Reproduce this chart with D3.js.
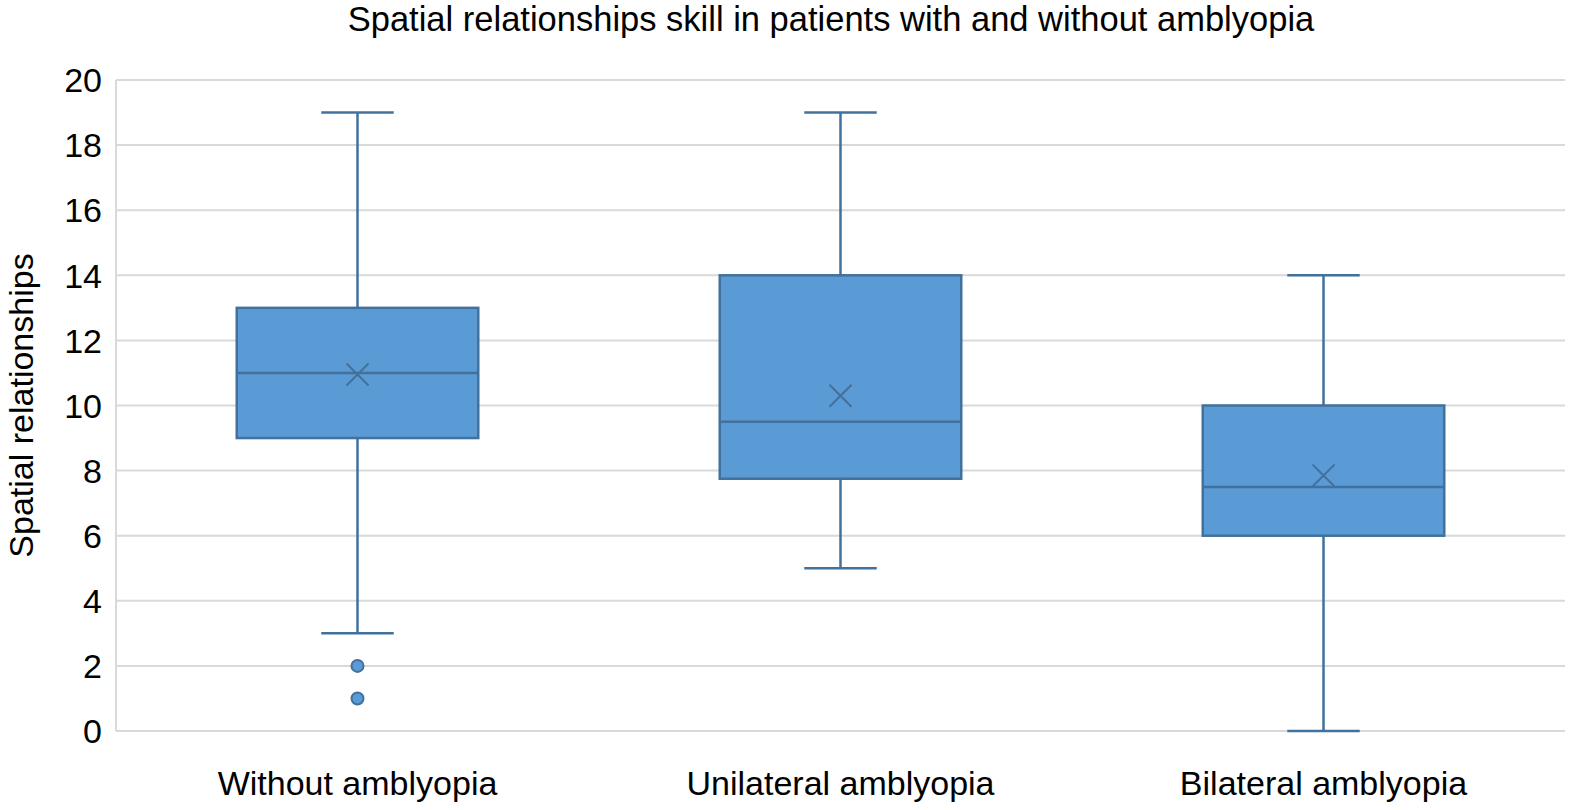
<!DOCTYPE html>
<html lang="en">
<head>
<meta charset="UTF-8">
<title>Spatial relationships box plot</title>
<script src="https://cdn.jsdelivr.net/npm/d3@7"></script>
<style>
  body { margin: 0; background: #fff; }
  text { font-family: "Liberation Sans", Arial, sans-serif; fill: #000; }
</style>
</head>
<body>
<div id="chart"></div>
<script>
// data
var groups   = ["Without amblyopia", "Unilateral amblyopia", "Bilateral amblyopia"];
var mins     = [3, 5, 0];
var q1s      = [9, 7.75, 6];
var medians  = [11, 9.5, 7.5];
var q3s      = [13, 14, 10];
var maxs     = [19, 19, 14];
var means    = [10.95, 10.3, 7.85];
var outliers = [[2, 1], [], []];
var yTicks   = [0, 2, 4, 6, 8, 10, 12, 14, 16, 18, 20];

const w = 1580, h = 810;
const margin = {top: 80, right: 15, bottom: 79, left: 116};

var svg = d3.select("#chart").append("svg")
    .attr("width", w)
    .attr("height", h);

var x = d3.scaleBand()
    .domain(groups)
    .range([margin.left, w - margin.right]);

var y = d3.scaleLinear()
    .domain([0, 20])
    .range([h - margin.bottom, margin.top]);

// gridlines
svg.append("g")
  .selectAll("line")
  .data(yTicks)
  .enter().append("line")
    .attr("x1", margin.left)
    .attr("x2", w - margin.right)
    .attr("y1", d => y(d))
    .attr("y2", d => y(d))
    .attr("stroke", "#d9d9d9")
    .attr("stroke-width", 2);

// left axis line
svg.append("line")
    .attr("x1", margin.left).attr("x2", margin.left)
    .attr("y1", y(20)).attr("y2", y(0))
    .attr("stroke", "#d9d9d9")
    .attr("stroke-width", 2);

// y tick labels
svg.append("g")
  .selectAll("text")
  .data(yTicks)
  .enter().append("text")
    .attr("x", margin.left - 14)
    .attr("y", d => y(d))
    .attr("dy", "0.36em")
    .attr("text-anchor", "end")
    .style("font-size", "34px")
    .text(d => d);

// x labels
svg.append("g")
  .selectAll("text")
  .data(groups)
  .enter().append("text")
    .attr("x", d => x(d) + x.bandwidth() / 2)
    .attr("y", h - margin.bottom + 64)
    .attr("text-anchor", "middle")
    .style("font-size", "34px")
    .text(d => d);

// title
svg.append("text")
    .attr("x", 831)
    .attr("y", 31)
    .attr("text-anchor", "middle")
    .style("font-size", "34.5px")
    .text("Spatial relationships skill in patients with and without amblyopia");

// y axis title
svg.append("text")
    .attr("transform", "translate(33," + y(10) + ") rotate(-90)")
    .attr("text-anchor", "middle")
    .style("font-size", "34px")
    .text("Spatial relationships");

var fill = "#5b9bd5", stroke = "#41719c";
var boxW = x.bandwidth() * 0.5, capW = x.bandwidth() * 0.15;

var box = svg.append("g")
  .selectAll("g")
  .data(groups)
  .enter().append("g")
    .attr("transform", d => "translate(" + (x(d) + x.bandwidth() / 2) + ",0)");

// whiskers
box.append("line")
    .attr("y1", (d, i) => y(maxs[i]))
    .attr("y2", (d, i) => y(q3s[i]))
    .attr("stroke", stroke).attr("stroke-width", 2.5);
box.append("line")
    .attr("y1", (d, i) => y(q1s[i]))
    .attr("y2", (d, i) => y(mins[i]))
    .attr("stroke", stroke).attr("stroke-width", 2.5);
box.append("line")
    .attr("x1", -capW / 2).attr("x2", capW / 2)
    .attr("y1", (d, i) => y(maxs[i])).attr("y2", (d, i) => y(maxs[i]))
    .attr("stroke", stroke).attr("stroke-width", 2.5);
box.append("line")
    .attr("x1", -capW / 2).attr("x2", capW / 2)
    .attr("y1", (d, i) => y(mins[i])).attr("y2", (d, i) => y(mins[i]))
    .attr("stroke", stroke).attr("stroke-width", 2.5);

// boxes
box.append("rect")
    .attr("x", -boxW / 2)
    .attr("width", boxW)
    .attr("y", (d, i) => y(q3s[i]))
    .attr("height", (d, i) => y(q1s[i]) - y(q3s[i]))
    .attr("fill", fill)
    .attr("stroke", stroke)
    .attr("stroke-width", 2.5);

// median
box.append("line")
    .attr("x1", -boxW / 2).attr("x2", boxW / 2)
    .attr("y1", (d, i) => y(medians[i])).attr("y2", (d, i) => y(medians[i]))
    .attr("stroke", stroke).attr("stroke-width", 2.5);

// mean marker (x)
var m = 11;
box.append("path")
    .attr("d", (d, i) => {
      var my = y(means[i]);
      return "M" + (-m) + "," + (my - m) + "L" + m + "," + (my + m) +
             "M" + (-m) + "," + (my + m) + "L" + m + "," + (my - m);
    })
    .attr("stroke", stroke).attr("stroke-width", 2).attr("fill", "none");

// outliers
box.each(function(d, i) {
  d3.select(this).selectAll("circle")
    .data(outliers[i])
    .enter().append("circle")
      .attr("cx", 0)
      .attr("cy", v => y(v))
      .attr("r", 6)
      .attr("fill", fill)
      .attr("stroke", stroke)
      .attr("stroke-width", 2);
});
</script>
</body>
</html>
